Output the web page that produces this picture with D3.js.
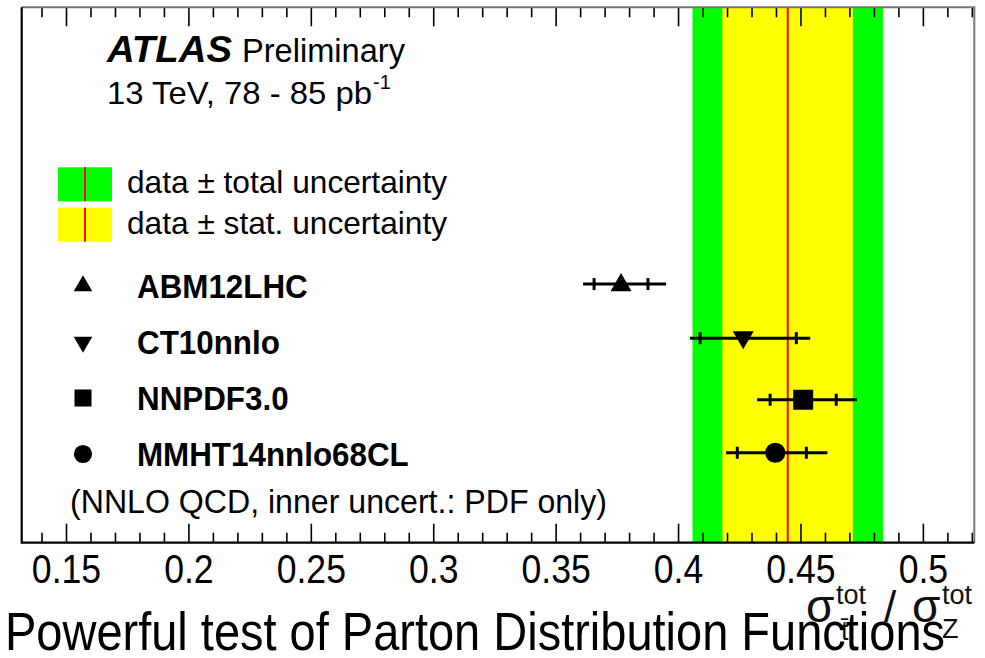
<!DOCTYPE html>
<html>
<head>
<meta charset="utf-8">
<script src="https://d3js.org/d3.v7.min.js"></script>
<style>
  body { margin: 0; background: #fff; }
  svg { display: block; font-family: "Liberation Sans", Arial, sans-serif; }
</style>
</head>
<body>
<svg id="chart" width="985" height="658"></svg>
<script>
// PDF predictions of sigma_ttbar / sigma_Z
const categories = ['ABM12LHC', 'CT10nnlo', 'NNPDF3.0', 'MMHT14nnlo68CL'];
const symbols = ['triangle-up', 'triangle-down', 'square', 'circle'];
const centralValues = [0.3765, 0.4264, 0.4509, 0.4395];
const pdfLow = [0.3655, 0.4088, 0.4374, 0.4240];
const pdfHigh = [0.3875, 0.4481, 0.4644, 0.4522];
const totLow = [0.3610, 0.4047, 0.4321, 0.4194];
const totHigh = [0.3949, 0.4538, 0.4729, 0.4608];
const rowY = [4.83, 3.82, 2.67, 1.68];

// measurement
const dataValue = 0.4446;
const statBand = [0.4179, 0.4712];
const totalBand = [0.4057, 0.4835];

const majorTicks = [0.15, 0.2, 0.25, 0.3, 0.35, 0.4, 0.45, 0.5];
const tickLabels = ['0.15', '0.2', '0.25', '0.3', '0.35', '0.4', '0.45', '0.5'];

const frame = { left: 21.7, right: 974.3, top: 7.3, bottom: 542.7 };
const svg = d3.select('#chart');

const x = d3.scaleLinear().domain([0.1317, 0.5208]).range([frame.left, frame.right]);
const y = d3.scaleLinear().domain([0, 10]).range([frame.bottom, frame.top]);

// squeeze text a bit, the original font is narrower than Liberation Sans
function squeeze(sel, factor) {
  sel.each(function () {
    const w = this.getComputedTextLength();
    d3.select(this).attr('textLength', w * factor).attr('lengthAdjust', 'spacingAndGlyphs');
  });
  return sel;
}
function fit(sel, width) {
  return sel.attr('textLength', width).attr('lengthAdjust', 'spacingAndGlyphs');
}

// bands
const bands = svg.append('g');
bands.append('rect')
  .attr('x', x(totalBand[0])).attr('width', x(totalBand[1]) - x(totalBand[0]))
  .attr('y', frame.top).attr('height', frame.bottom - frame.top)
  .attr('fill', '#00ff00');
bands.append('rect')
  .attr('x', x(statBand[0])).attr('width', x(statBand[1]) - x(statBand[0]))
  .attr('y', frame.top).attr('height', frame.bottom - frame.top)
  .attr('fill', '#ffff00');
bands.append('line')
  .attr('x1', x(dataValue)).attr('x2', x(dataValue))
  .attr('y1', frame.top).attr('y2', frame.bottom)
  .attr('stroke', '#ff0000').attr('stroke-width', 2);

// ticks, bottom and top
const minorTicks = d3.range(14, 53).map(d => d / 100);
const axisG = svg.append('g').attr('stroke', '#000').attr('stroke-width', 1.6);
minorTicks.forEach(t => {
  const isMajor = Math.abs(t * 20 - Math.round(t * 20)) < 1e-6;
  const len = isMajor ? 19 : 10;
  const px = x(t);
  if (px < frame.left + 1 || px > frame.right - 1) return;
  axisG.append('line').attr('x1', px).attr('x2', px)
    .attr('y1', frame.bottom).attr('y2', frame.bottom - len);
  axisG.append('line').attr('x1', px).attr('x2', px)
    .attr('y1', frame.top).attr('y2', frame.top + len);
});

// frame
svg.append('path')
  .attr('d', `M${frame.left},${frame.top}H${frame.right}V${frame.bottom}`)
  .attr('fill', 'none').attr('stroke', '#777').attr('stroke-width', 2);
svg.append('path')
  .attr('d', `M${frame.left},${frame.top}V${frame.bottom}H${frame.right}`)
  .attr('fill', 'none').attr('stroke', '#000').attr('stroke-width', 2.2);

// tick labels
squeeze(svg.append('g').selectAll('text')
  .data(majorTicks)
  .join('text')
  .attr('x', d => x(d))
  .attr('y', 583)
  .attr('text-anchor', 'middle')
  .attr('font-size', 40)
  .text((d, i) => tickLabels[i]), 0.89);

// marker shapes
function markerPath(kind, size) {
  const type = { 'triangle-up': d3.symbolTriangle, 'triangle-down': d3.symbolTriangle,
    square: d3.symbolSquare, circle: d3.symbolCircle }[kind];
  return d3.symbol(type, size)();
}
const markerSize = { 'triangle-up': 190, 'triangle-down': 190, square: 400, circle: 320 };

// error bars and markers
const pts = svg.append('g');
categories.forEach((c, i) => {
  const cy = y(rowY[i]);
  pts.append('line')
    .attr('x1', x(totLow[i])).attr('x2', x(totHigh[i]))
    .attr('y1', cy).attr('y2', cy)
    .attr('stroke', '#000').attr('stroke-width', 3);
  [pdfLow[i], pdfHigh[i]].forEach(v => {
    pts.append('line')
      .attr('x1', x(v)).attr('x2', x(v))
      .attr('y1', cy - 6).attr('y2', cy + 6)
      .attr('stroke', '#000').attr('stroke-width', 3);
  });
  const rot = symbols[i] === 'triangle-down' ? 180 : 0;
  const dy = symbols[i] === 'triangle-up' ? 1 : (symbols[i] === 'triangle-down' ? -1 : 0);
  pts.append('path')
    .attr('d', markerPath(symbols[i], markerSize[symbols[i]]))
    .attr('transform', `translate(${x(centralValues[i])},${cy + dy}) rotate(${rot})`)
    .attr('fill', '#000');
});

// texts
const txt = svg.append('g').attr('fill', '#000');
fit(txt.append('text').attr('x', 107).attr('y', 62).attr('font-size', 36)
  .attr('font-weight', 'bold').attr('font-style', 'italic').text('ATLAS'), 125);
fit(txt.append('text').attr('x', 242).attr('y', 62).attr('font-size', 33)
  .text('Preliminary'), 163);

fit(txt.append('text').attr('x', 107).attr('y', 104).attr('font-size', 32)
  .text('13 TeV, 78 - 85 pb'), 265);
txt.append('text').attr('x', 373).attr('y', 89).attr('font-size', 20).text('-1');

// legend boxes
const legendBoxes = [
  { fill: '#00ff00', y: 167.3, label: 'data \u00b1 total uncertainty' },
  { fill: '#ffff00', y: 207.7, label: 'data \u00b1 stat. uncertainty' }
];
legendBoxes.forEach(b => {
  txt.append('rect').attr('x', 58).attr('y', b.y).attr('width', 54).attr('height', 34).attr('fill', b.fill);
  txt.append('line').attr('x1', 85).attr('x2', 85).attr('y1', b.y).attr('y2', b.y + 34)
    .attr('stroke', '#ff0000').attr('stroke-width', 2);
  fit(txt.append('text').attr('x', 127).attr('y', b.y + 26).attr('font-size', 32).text(b.label), 320);
});

// legend entries
const legendY = [286, 342, 398, 454];
categories.forEach((c, i) => {
  const rot = symbols[i] === 'triangle-down' ? 180 : 0;
  const s = { 'triangle-up': 150, 'triangle-down': 150, square: 290, circle: 260 }[symbols[i]];
  txt.append('path')
    .attr('d', markerPath(symbols[i], s))
    .attr('transform', `translate(83,${legendY[i]}) rotate(${rot})`);
  squeeze(txt.append('text').attr('x', 137).attr('y', legendY[i] + 12)
    .attr('font-size', 33).attr('font-weight', 'bold').text(c), 0.95);
});

fit(txt.append('text').attr('x', 70).attr('y', 513).attr('font-size', 33)
  .text('(NNLO QCD, inner uncert.: PDF only)'), 537);

// axis title
const at = svg.append('g').attr('fill', '#111');
at.append('text').attr('x', 806).attr('y', 622).attr('font-size', 46).text('\u03c3');
at.append('text').attr('x', 836).attr('y', 604).attr('font-size', 27).text('tot');
at.append('text').attr('x', 841).attr('y', 640).attr('font-size', 27).text('t\u0304');
at.append('text').attr('x', 884).attr('y', 622).attr('font-size', 44).text('/');
at.append('text').attr('x', 912).attr('y', 622).attr('font-size', 46).text('\u03c3');
at.append('text').attr('x', 942).attr('y', 604).attr('font-size', 27).text('tot');
at.append('text').attr('x', 942).attr('y', 638).attr('font-size', 27).text('Z');

// slide title
fit(svg.append('text').attr('x', 5).attr('y', 650).attr('font-size', 53).attr('fill', '#000')
  .text('Powerful test of Parton Distribution Functions'), 940);
</script>
</body>
</html>
